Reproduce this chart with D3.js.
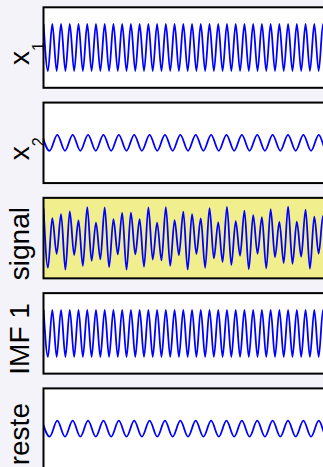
<!DOCTYPE html>
<html><head><meta charset="utf-8">
<script src="https://cdn.jsdelivr.net/npm/d3@7"></script>
<style>html,body{margin:0;padding:0;background:#f3f3f9;overflow:hidden}</style>
</head><body><svg id="c" width="323" height="467"></svg>
<script>
// extrema times (samples)
const tExt1 = [-0.43,3.94,8.30,12.67,17.04,21.40,25.77,30.14,34.50,38.87,43.24,47.60,51.97,56.33,60.70,65.07,69.43,73.80,78.17,82.53,86.90,91.27,95.63,100.00,104.37,108.73,113.10,117.47,121.83,126.20,130.57,134.93,139.30,143.67,148.03,152.40,156.76,161.13,165.50,169.86,174.23,178.60,182.96,187.33,191.70,196.06,200.43,204.80,209.16,213.53,217.90,222.26,226.63,231.00,235.36,239.73,244.10,248.46,252.83,257.19,261.56,265.93,270.29,274.66,279.03,283.39,287.76,292.13,296.49,300.86];
const x1Vals = [1,-1,1,-1,1,-1,1,-1,1,-1,1,-1,1,-1,1,-1,1,-1,1,-1,1,-1,1,-1,1,-1,1,-1,1,-1,1,-1,1,-1,1,-1,1,-1,1,-1,1,-1,1,-1,1,-1,1,-1,1,-1,1,-1,1,-1,1,-1,1,-1,1,-1,1,-1,1,-1,1,-1,1,-1,1,-1];
const tExt2 = [-2.08,5.61,13.30,20.99,28.68,36.37,44.06,51.75,59.44,67.13,74.82,82.51,90.20,97.89,105.58,113.27,120.96,128.65,136.34,144.03,151.72,159.41,167.10,174.79,182.48,190.17,197.86,205.55,213.24,220.93,228.62,236.31,244.00,251.69,259.38,267.07,274.76,282.45,290.14,297.83,305.52];
const x2Vals = [0.34,-0.34,0.34,-0.34,0.34,-0.34,0.34,-0.34,0.34,-0.34,0.34,-0.34,0.34,-0.34,0.34,-0.34,0.34,-0.34,0.34,-0.34,0.34,-0.34,0.34,-0.34,0.34,-0.34,0.34,-0.34,0.34,-0.34,0.34,-0.34,0.34,-0.34,0.34,-0.34,0.34,-0.34,0.34,-0.34,0.34];
const signalVals = [1.27,-1.26,0.85,-0.67,1.02,-1.34,1.13,-0.72,0.75,-1.18,
  1.32,-0.96,0.66,-0.90,1.30,-1.23,0.80,-0.69,1.07,-1.34,
  1.08,-0.69,0.80,-1.22,1.30,-0.91,0.66,-0.95,1.32,-1.18,
  0.76,-0.72,1.12,-1.34,1.02,-0.67,0.84,-1.26,1.27,-0.86,
  0.67,-1.01,1.33,-1.14,0.72,-0.75,1.17,-1.32,0.97,-0.66,
  0.89,-1.29,1.23,-0.81,0.69,-1.06,1.34,-1.09,0.70,-0.79,
  1.21,-1.30,0.91,-0.66,0.94,-1.32,1.19,-0.77,0.71,-1.11];
const imf1Vals = [1,-1,1,-1,1,-1,1,-1,1,-1,1,-1,1,-1,1,-1,1,-1,1,-1,1,-1,1,-1,1,-1,1,-1,1,-1,1,-1,1,-1,1,-1,1,-1,1,-1,1,-1,1,-1,1,-1,1,-1,1,-1,1,-1,1,-1,1,-1,1,-1,1,-1,1,-1,1,-1,1,-1,1,-1,1,-1];
const resteVals = [0.34,-0.34,0.34,-0.34,0.34,-0.34,0.34,-0.34,0.34,-0.34,0.34,-0.34,0.34,-0.34,0.34,-0.34,0.34,-0.34,0.34,-0.34,0.34,-0.34,0.34,-0.34,0.34,-0.34,0.34,-0.34,0.34,-0.34,0.34,-0.34,0.34,-0.34,0.34,-0.34,0.34,-0.34,0.34,-0.34,0.34];
const labelMain = ["x","x","signal","IMF 1","reste"];
const labelSub = ["1","2","","",""];

const panels = [
  {t:tExt1, v:x1Vals, fill:"#ffffff"},
  {t:tExt2, v:x2Vals, fill:"#ffffff"},
  {t:tExt1, v:signalVals, fill:"#f1ef8d"},
  {t:tExt1, v:imf1Vals, fill:"#ffffff"},
  {t:tExt2, v:resteVals, fill:"#ffffff"}
];

const svg = d3.select("#c");
svg.append("rect").attr("width",323).attr("height",467).attr("fill","#f3f3f9");
const x = d3.scaleLinear().domain([0,300]).range([44,344]);
const topScale = d3.scaleLinear().domain([0,4]).range([7.3,388.4]);
const H = 80.5;

panels.forEach((p,i)=>{
  const top = topScale(i);
  const y = d3.scaleLinear().domain([-1.71,1.71]).range([top+H, top]);
  const g = svg.append("g");
  g.append("rect").attr("x",x(0)).attr("y",top).attr("width",x(300)-x(0)).attr("height",H)
    .attr("fill",p.fill);
  const cid = "clip"+i;
  svg.append("clipPath").attr("id",cid).append("rect")
    .attr("x",x(0)).attr("y",top).attr("width",x(300)-x(0)).attr("height",H);
  const line = d3.line().x((d,k)=>x(p.t[k])).y(d=>y(d)).curve(d3.curveMonotoneX);
  g.append("path").attr("d",line(p.v)).attr("fill","none").attr("stroke","#0000ff")
    .attr("stroke-width",1.8).attr("clip-path","url(#"+cid+")");
  g.append("rect").attr("x",x(0)-0.5).attr("y",top).attr("width",x(300)-x(0)).attr("height",H)
    .attr("fill","none").attr("stroke","#000").attr("stroke-width",2);
  const cy = top + H/2 + (labelSub[i] ? 6 : 5.5);
  const txt = svg.append("text").attr("transform",`translate(28.8,${cy}) rotate(-90)`)
    .attr("text-anchor","middle").attr("font-family","'Liberation Sans', Arial, Helvetica, sans-serif")
    .attr("font-size",28).attr("fill","#000");
  txt.append("tspan").text(labelMain[i]);
  if (labelSub[i]) txt.append("tspan").attr("font-size",16).attr("dy",15).text(labelSub[i]);
});
</script></body></html>
